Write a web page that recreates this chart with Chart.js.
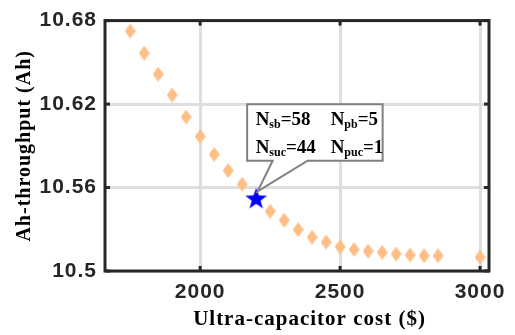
<!DOCTYPE html>
<html>
<head>
<meta charset="utf-8">
<script src="https://cdn.jsdelivr.net/npm/chart.js@4.4.1/dist/chart.umd.min.js"></script>
<style>
  html, body { margin: 0; padding: 0; background: #fff; }
</style>
</head>
<body>
<canvas id="grafico" width="515" height="335"></canvas>
<script>
// ultra-capacitor cost ($) for each design
const costs = [1750, 1800, 1850, 1900, 1950, 2000, 2050, 2100, 2150, 2200, 2250, 2300,
  2350, 2400, 2450, 2500, 2550, 2600, 2650, 2700, 2750, 2800, 2850, 3000];
// Ah-throughput (Ah)
const ahThroughput = [10.6725, 10.6566, 10.6415, 10.6265, 10.6107, 10.5967, 10.5838, 10.5722,
  10.5624, 10.5523, 10.5430, 10.5365, 10.5297, 10.5243, 10.5208, 10.5173, 10.5155, 10.5143,
  10.5134, 10.5122, 10.5115, 10.5110, 10.5110, 10.5099];
// chosen design (blue star)
const bestCost = [2200];
const bestAh = [10.5523];

const xTicks = [2000, 2500, 3000];
const yTicks = [10.5, 10.56, 10.62, 10.68];
const yTickLabels = ['10.5', '10.56', '10.62', '10.68'];

// callout text: [N, subscript, value]
const calloutRows = [
  [['N', 'sb', '=58'], ['N', 'pb', '=5']],
  [['N', 'suc', '=44'], ['N', 'puc', '=1']]
];

function makeDiamond(w, h, color) {
  var c = document.createElement('canvas');
  c.width = w; c.height = h;
  var g = c.getContext('2d');
  g.fillStyle = color;
  g.beginPath();
  g.moveTo(w / 2, 0); g.lineTo(w, h / 2); g.lineTo(w / 2, h); g.lineTo(0, h / 2);
  g.closePath();
  g.fill();
  return c;
}

function makeStar(size, color) {
  var c = document.createElement('canvas');
  c.width = size; c.height = size;
  var g = c.getContext('2d');
  var cx = size / 2, cy = size / 2 + 1, ro = size / 2 - 0.5, ri = ro * 0.4;
  g.fillStyle = color;
  g.beginPath();
  for (var i = 0; i < 10; i++) {
    var r = i % 2 ? ri : ro;
    var a = -Math.PI / 2 + i * Math.PI / 5;
    g.lineTo(cx + r * Math.cos(a), cy + r * Math.sin(a));
  }
  g.closePath();
  g.fill();
  return c;
}

var diamond = makeDiamond(11, 15, '#FFBE85');
var star = makeStar(24, '#0000FF');

// the reference text is a bit wide, spread the letters
const spacing = {
  id: 'spacing',
  beforeDraw(chart) { chart.ctx.letterSpacing = '1px'; }
};

// box with inward ticks like matlab
const frame = {
  id: 'frame',
  beforeDatasetsDraw(chart) {
    var a = chart.chartArea, ctx = chart.ctx;
    var sx = chart.scales.x, sy = chart.scales.y;
    ctx.save();
    ctx.strokeStyle = '#262626';
    ctx.lineWidth = 3;
    ctx.strokeRect(a.left, a.top, a.right - a.left, a.bottom - a.top);
    ctx.fillStyle = '#262626';
    xTicks.forEach(function (v) {
      var px = sx.getPixelForValue(v);
      ctx.fillRect(px - 1.5, a.top, 3, 5);
      ctx.fillRect(px - 1.5, a.bottom - 5, 3, 5);
    });
    yTicks.forEach(function (v) {
      var py = sy.getPixelForValue(v);
      ctx.fillRect(a.left, py - 1.5, 5, 3);
      ctx.fillRect(a.right - 5, py - 1.5, 5, 3);
    });
    ctx.restore();
  }
};

const callout = {
  id: 'callout',
  afterDatasetsDraw(chart) {
    var ctx = chart.ctx;
    var x = chart.scales.x.getPixelForValue(bestCost[0]);
    var y = chart.scales.y.getPixelForValue(bestAh[0]);
    var left = x - 9, right = x + 126.5, top = y - 94, bottom = y - 37.5;
    ctx.save();
    ctx.letterSpacing = '0px';
    ctx.beginPath();
    ctx.moveTo(left, top);
    ctx.lineTo(right, top);
    ctx.lineTo(right, bottom);
    ctx.lineTo(x + 51.5, bottom);
    ctx.lineTo(x + 1.5, y - 7);
    ctx.lineTo(x + 16.5, bottom);
    ctx.lineTo(left, bottom);
    ctx.closePath();
    ctx.fillStyle = '#fff';
    ctx.fill();
    ctx.strokeStyle = '#808080';
    ctx.lineWidth = 2;
    ctx.stroke();

    ctx.fillStyle = '#000';
    ctx.textBaseline = 'alphabetic';
    var cols = [x - 0.5, x + 74.5];
    var rows = [y - 73, y - 45];
    calloutRows.forEach(function (row, r) {
      row.forEach(function (part, c) {
        var px = cols[c];
        ctx.font = 'bold 19px "Liberation Serif"';
        ctx.fillText(part[0], px, rows[r]);
        px += ctx.measureText(part[0]).width;
        ctx.font = 'bold 12px "Liberation Serif"';
        ctx.fillText(part[1], px, rows[r] + 3);
        px += ctx.measureText(part[1]).width;
        ctx.font = 'bold 19px "Liberation Serif"';
        ctx.fillText(part[2], px, rows[r]);
      });
    });
    ctx.restore();
  }
};

var tickFont = { family: 'Liberation Sans', weight: 'bold', size: 21 };
var titleFont = { family: 'Liberation Serif', weight: 'bold', size: 21 };

var chart = new Chart(document.getElementById('grafico'), {
  type: 'scatter',
  data: {
    datasets: [
      {
        label: 'chosen',
        data: bestCost.map(function (c, i) { return { x: c, y: bestAh[i] }; }),
        pointStyle: star,
        pointRadius: 12
      },
      {
        label: 'designs',
        data: costs.map(function (c, i) { return { x: c, y: ahThroughput[i] }; }),
        pointStyle: diamond,
        pointRadius: 8
      }
    ]
  },
  options: {
    responsive: false,
    animation: false,
    devicePixelRatio: 1,
    layout: { padding: { top: 15, right: 26, left: 0, bottom: 0 } },
    plugins: { legend: { display: false }, tooltip: { enabled: false } },
    scales: {
      x: {
        type: 'linear',
        min: 1660,
        max: 3032,
        afterBuildTicks: function (s) { s.ticks = xTicks.map(function (v) { return { value: v }; }); },
        afterFit: function (s) { s.height = 64; },
        grid: { color: '#dedede', lineWidth: 3, drawTicks: false },
        border: { display: false },
        ticks: {
          font: tickFont, color: '#262626', padding: 9, maxRotation: 0,
          callback: function (v) { return String(v); }
        },
        // leading spaces push the label a little right, as in the picture
        title: { display: true, text: '    Ultra-capacitor cost ($)', font: titleFont, color: '#000', padding: { top: 0, bottom: 3 } }
      },
      y: {
        type: 'linear',
        min: 10.5,
        max: 10.68,
        afterBuildTicks: function (s) { s.ticks = yTicks.map(function (v) { return { value: v }; }); },
        afterFit: function (s) { s.width = 105; },
        grid: { color: '#dedede', lineWidth: 3, drawTicks: false },
        border: { display: false },
        ticks: {
          font: tickFont, color: '#262626', padding: 8,
          callback: function (v) { return yTickLabels[yTicks.indexOf(v)]; }
        },
        title: {
          display: true, text: 'Ah-throughput (Ah)', color: '#000', padding: { top: 13, bottom: 0 },
          font: { family: 'Liberation Serif', weight: 'bold', size: 20 }
        }
      }
    }
  },
  plugins: [spacing, frame, callout]
});
</script>
</body>
</html>
